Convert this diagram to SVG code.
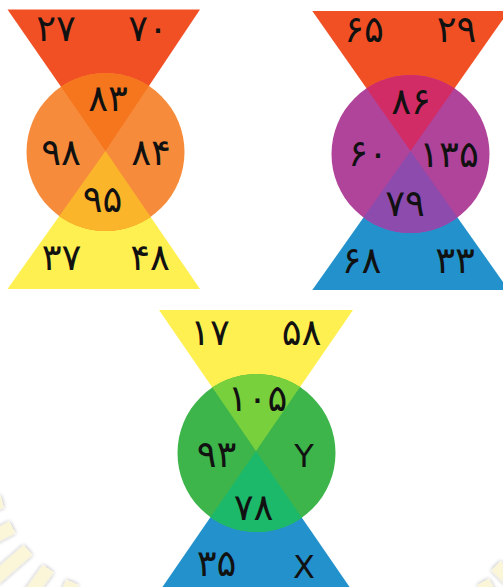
<svg xmlns="http://www.w3.org/2000/svg" width="503" height="587" viewBox="0 0 503 587">
  <defs>
    <style>
      .num { font-family: "DejaVu Sans", "Noto Sans", sans-serif; font-weight: normal; font-size: 37px; fill: #111; text-anchor: middle; direction: ltr; letter-spacing: 3px; }
      .lat { font-size: 32px; letter-spacing: 0; }
      .ray { fill: #FCF6D8; filter: url(#rayShadow); }
    </style>
    <filter id="rayShadow" x="-50%" y="-50%" width="200%" height="200%">
      <feGaussianBlur in="SourceAlpha" stdDeviation="2"/>
      <feComponentTransfer><feFuncA type="linear" slope="0.35"/></feComponentTransfer>
      <feMerge><feMergeNode/><feMergeNode in="SourceGraphic"/></feMerge>
    </filter>
    <clipPath id="clip1"><circle cx="105.5" cy="152" r="79"/></clipPath>
    <clipPath id="clip2"><circle cx="410.5" cy="154" r="79"/></clipPath>
    <clipPath id="clip3"><circle cx="256.5" cy="453" r="79"/></clipPath>
  </defs>

  <rect width="503" height="587" fill="#ffffff"/>

  <!-- faint sunburst rays in the lower corners -->
  <g id="rays">
    <g transform="translate(120 470)">
      <rect class="ray" x="122" y="-6.5" width="45" height="13" transform="rotate(165)"/>
      <rect class="ray" x="122" y="-6.5" width="45" height="13" transform="rotate(152)"/>
      <rect class="ray" x="122" y="-6.5" width="45" height="13" transform="rotate(139)"/>
      <rect class="ray" x="122" y="-6.5" width="45" height="13" transform="rotate(126)"/>
      <rect class="ray" x="122" y="-6.5" width="45" height="13" transform="rotate(113)"/>
    </g>
    <rect class="ray" x="0" y="-6.5" width="40" height="13" transform="translate(491.7 570) rotate(45) translate(0 -6)"/>
    <rect class="ray" x="0" y="-6.5" width="40" height="13" transform="translate(483 582) rotate(60)"/>
  </g>

  <!-- first figure: orange / yellow -->
  <g id="figure1">
    <polygon points="7.5,9.5 200,9.5 105.5,151" fill="#F15025"/>
    <polygon points="7.5,289 200,289 105.5,151" fill="#FEF050"/>
    <circle cx="105.5" cy="152" r="79" fill="#F68C3B"/>
    <g clip-path="url(#clip1)">
      <polygon points="7.5,9.5 200,9.5 105.5,151" fill="#F6761E"/>
      <polygon points="7.5,289 200,289 105.5,151" fill="#FBB52B"/>
    </g>
    <text class="num" x="56" y="41">۲۷</text>
    <text class="num" x="148" y="41">۷۰</text>
    <text class="num" x="108" y="111">۸۳</text>
    <text class="num" x="61" y="165">۹۸</text>
    <text class="num" x="151" y="165">۸۴</text>
    <text class="num" x="102.5" y="212">۹۵</text>
    <text class="num" x="61.5" y="270">۳۷</text>
    <text class="num" x="150" y="270">۴۸</text>
  </g>

  <!-- second figure: red / purple / blue -->
  <g id="figure2">
    <polygon points="312.3,11 508.7,11 410.5,151" fill="#F15025"/>
    <polygon points="312.3,290 508.7,290 410.5,151" fill="#2392CC"/>
    <circle cx="410.5" cy="154" r="79" fill="#B0439A"/>
    <g clip-path="url(#clip2)">
      <polygon points="312.3,11 508.7,11 410.5,151" fill="#D22C67"/>
      <polygon points="312.3,290 508.7,290 410.5,151" fill="#8E4BAE"/>
    </g>
    <text class="num" x="364" y="42">۶۵</text>
    <text class="num" x="456.5" y="42">۲۹</text>
    <text class="num" x="411" y="114">۸۶</text>
    <text class="num" x="368" y="166">۶۰</text>
    <text class="num" x="449" y="167">۱۳۵</text>
    <text class="num" x="405" y="216">۷۹</text>
    <text class="num" x="361.5" y="273">۶۸</text>
    <text class="num" x="455" y="273">۳۳</text>
  </g>

  <!-- third figure: yellow / green / blue -->
  <g id="figure3">
    <polygon points="159,310 353,310 256,451" fill="#FEF050"/>
    <polygon points="159,592 353,592 256,451" fill="#2392CC"/>
    <circle cx="256.5" cy="453" r="79" fill="#3DB54A"/>
    <g clip-path="url(#clip3)">
      <polygon points="159,310 353,310 256,451" fill="#79D03D"/>
      <polygon points="159,592 353,592 256,451" fill="#1DB96B"/>
    </g>
    <text class="num" x="210" y="345">۱۷</text>
    <text class="num" x="301.5" y="345">۵۸</text>
    <text class="num" x="257.5" y="411">۱۰۵</text>
    <text class="num" x="216.5" y="467">۹۳</text>
    <text class="num lat" x="304" y="467">Y</text>
    <text class="num" x="253.5" y="520">۷۸</text>
    <text class="num" x="216.5" y="576">۳۵</text>
    <text class="num lat" x="304" y="578">X</text>
  </g>
</svg>
